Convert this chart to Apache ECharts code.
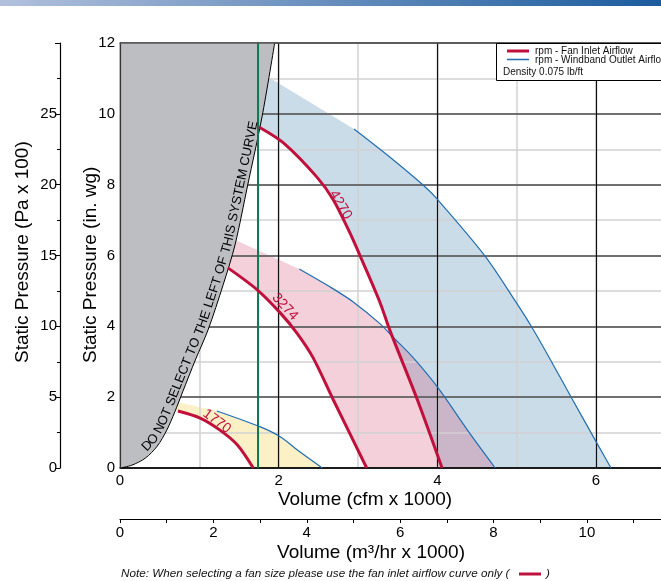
<!DOCTYPE html>
<html><head><meta charset="utf-8">
<script src="https://cdn.jsdelivr.net/npm/echarts@6/dist/echarts.min.js"></script>
<style>html,body{margin:0;padding:0;background:#fff}#c{width:661px;height:581px}</style>
</head><body><div id="c"></div>
<script>
// ---------------- data ----------------
const cfmTickLabels = [0, 2, 4, 6];
const m3hTickLabels = [0, 2, 4, 6, 8, 10];
const paTickLabels = [0, 5, 10, 15, 20, 25];
const CFM_TO_M3H = 1.699;
const cfmVisibleMax = 6.82;   // chart is cropped at the right edge

// system curve (gray "do not select" region boundary)
const systemCurveCfm = [0, 0.15, 0.32, 0.47, 0.59, 0.69, 0.79, 0.95, 1.11, 1.30, 1.45, 1.61, 1.79, 1.95];
const systemCurveWg  = [0, 0.08, 0.28, 0.62, 1.07, 1.58, 2.15, 3.05, 3.90, 5.17, 6.30, 7.99, 9.91, 12];

const selectionLimitCfm = 1.74;

// fan inlet airflow curves (red)
const inlet4270Cfm = [1.75, 2.06, 2.48, 2.69, 2.90, 3.05, 3.28, 3.40, 3.75, 4.06];
const inlet4270Wg  = [9.63, 9.18, 8.22, 7.57, 6.63, 5.87, 4.66, 3.90, 1.92, 0];
const inlet3274Cfm = [1.36, 1.73, 2.02, 2.23, 2.43, 2.69, 3.11];
const inlet3274Wg  = [5.65, 5.03, 4.38, 3.81, 3.13, 1.92, 0];
const inlet1770Cfm = [0.73, 1.01, 1.26, 1.48, 1.68];
const inlet1770Wg  = [1.61, 1.41, 1.07, 0.65, 0];

// windband outlet airflow curves (blue)
const outlet4270Cfm = [2.95, 3.40, 3.82, 4.00, 4.60, 4.99, 5.19, 5.45, 5.70, 6.01, 6.19];
const outlet4270Wg  = [9.57, 8.78, 7.99, 7.59, 5.99, 4.69, 3.98, 2.96, 1.95, 0.71, 0];
const outlet3274Cfm = [2.26, 2.65, 2.94, 3.28, 3.44, 3.69, 4.01, 4.38, 4.73];
const outlet3274Wg  = [5.62, 5.11, 4.69, 4.07, 3.70, 3.13, 2.26, 1.07, 0];
const outlet1770Cfm = [1.22, 1.77, 2.02, 2.27, 2.55];
const outlet1770Wg  = [1.61, 1.16, 0.88, 0.45, 0];

// top-left corner of each shaded band (on the system curve)
const band4270Start = [1.89, 11.01];
const band3274Start = [1.45, 6.44];
const band1770Start = [0.76, 1.84];

const rpmLabels = ['4270', '3274', '1770'];
const rpmLabelAt = [[2.78, 7.43], [2.08, 4.55], [1.22, 1.32]];
const rpmLabelAngle = [-59, -47, -36];

const warningText = 'DO NOT SELECT TO THE LEFT OF THIS SYSTEM CURVE';
const noteText = 'Note: When selecting a fan size please use the fan inlet airflow curve only (';

// ---------------- chart ----------------
const F = '"Liberation Sans", Arial, Helvetica, sans-serif';
const RED = '#c0103c', BLUE = '#1f6db3', GREEN = '#0b7a50';
const zip = (xs, ys) => xs.map((x, i) => [x, ys[i]]);

function bandPoints(inX, inY, outX, outY, start) {
  const shift = 0.3; // pushes the band's left edge under the gray region
  const pts = [[start[0], start[1]]];
  outX.forEach((x, i) => pts.push([x, outY[i]]));
  for (let i = inX.length - 1; i >= 0; i--) pts.push([inX[i], inY[i]]);
  pts.push([inX[0] - shift, inY[0]]);
  pts.push([start[0] - shift, start[1]]);
  return pts;
}
function polySeries(pts, fill, z) {
  return {
    type: 'custom', coordinateSystem: 'cartesian2d', xAxisIndex: 0, yAxisIndex: 0,
    z: z, silent: true, data: [[0, 0]],
    renderItem: (params, api) => ({
      type: 'polygon', shape: { points: pts.map(p => api.coord(p)) },
      style: { fill: fill }
    })
  };
}
function lineSeries(xs, ys, color, width, z) {
  return {
    type: 'line', xAxisIndex: 0, yAxisIndex: 0, data: zip(xs, ys), smooth: 0.3,
    showSymbol: false, symbol: 'none', silent: true, z: z,
    lineStyle: { color: color, width: width }
  };
}

const grayPts = zip(systemCurveCfm, systemCurveWg).concat([[0, 12]]);

const chart = echarts.init(document.getElementById('c'), null, { renderer: 'canvas', width: 661, height: 581 });

const option = {
  animation: false,
  grid: { left: 120, top: 43, right: 0, height: 425, containLabel: false, outerBoundsMode: 'none' },
  xAxis: [
    { type: 'value', min: 0, max: cfmVisibleMax, interval: 2, position: 'bottom', z: 4,
      axisLine: { show: true, onZero: false, lineStyle: { color: '#000', width: 1.5 } },
      axisTick: { show: false },
      axisLabel: { fontSize: 15, color: '#000', fontFamily: F, margin: 5, showMaxLabel: false,
        formatter: v => cfmTickLabels.includes(v) ? String(v) : '' },
      splitLine: { show: true, showMaxLine: false, lineStyle: { color: '#111', width: 1.2 } } },
    { type: 'value', min: 0, max: cfmVisibleMax, interval: 1, position: 'bottom', z: 3,
      axisLine: { show: false }, axisTick: { show: false }, axisLabel: { show: false },
      splitLine: { show: true, showMaxLine: false, lineStyle: { color: '#d2d2d2', width: 1.5 } } },
    { type: 'value', min: 0, max: cfmVisibleMax * CFM_TO_M3H, interval: 1, position: 'bottom', offset: 51, z: 4,
      axisLine: { show: true, onZero: false, lineStyle: { color: '#000', width: 1.2 } },
      axisTick: { show: true, length: 4, lineStyle: { color: '#000', width: 1 } },
      axisLabel: { fontSize: 15, color: '#000', fontFamily: F, margin: 6, showMaxLabel: false,
        formatter: v => m3hTickLabels.includes(v) ? String(v) : '' },
      splitLine: { show: false } },
    { type: 'value', min: 0, max: cfmVisibleMax, position: 'top', z: 8,
      axisLine: { show: true, onZero: false, lineStyle: { color: '#555', width: 1.5 } },
      axisTick: { show: false }, axisLabel: { show: false }, splitLine: { show: false } }
  ],
  yAxis: [
    { type: 'value', min: 0, max: 12, interval: 2, position: 'left', z: 4,
      axisLine: { show: false }, axisTick: { show: false },
      axisLabel: { fontSize: 15, color: '#000', fontFamily: F, margin: 5 },
      splitLine: { show: true, lineStyle: { color: '#4d4d4d', width: 1.6 } } },
    { type: 'value', min: 0, max: 12, interval: 1, position: 'left', z: 3,
      axisLine: { show: false }, axisTick: { show: false }, axisLabel: { show: false },
      splitLine: { show: true, lineStyle: { color: '#d2d2d2', width: 1.5 } } },
    { type: 'value', min: 0, max: 30, interval: 5, position: 'left', offset: 60, z: 4,
      axisLine: { show: true, onZero: false, lineStyle: { color: '#000', width: 1.2 } },
      axisTick: { show: true, length: 5, lineStyle: { color: '#000', width: 1 } },
      minorTick: { show: true, splitNumber: 2, length: 3, lineStyle: { color: '#000', width: 1 } },
      axisLabel: { fontSize: 15, color: '#000', fontFamily: F, margin: 3,
        formatter: v => paTickLabels.includes(v) ? String(v) : '' },
      splitLine: { show: false }, minorSplitLine: { show: false } },
    { type: 'value', min: 0, max: 12, position: 'left', z: 8,
      axisLine: { show: true, onZero: false, lineStyle: { color: '#333', width: 1.2 } },
      axisTick: { show: false }, axisLabel: { show: false }, splitLine: { show: false } }
  ],
  series: [
    polySeries(bandPoints(inlet4270Cfm, inlet4270Wg, outlet4270Cfm, outlet4270Wg, band4270Start), '#cbdce9', 1),
    polySeries(bandPoints(inlet3274Cfm, inlet3274Wg, outlet3274Cfm, outlet3274Wg, band3274Start), 'rgba(205,60,100,0.24)', 1),
    polySeries(bandPoints(inlet1770Cfm, inlet1770Wg, outlet1770Cfm, outlet1770Wg, band1770Start), '#fcf1c6', 1),
    polySeries(grayPts, '#bdbec2', 5),
    lineSeries(systemCurveCfm, systemCurveWg, '#000', 1, 6),
    lineSeries([selectionLimitCfm, selectionLimitCfm], [0, 12], GREEN, 2, 6),
    lineSeries(outlet4270Cfm, outlet4270Wg, BLUE, 1.2, 6),
    lineSeries(outlet3274Cfm, outlet3274Wg, BLUE, 1.2, 6),
    lineSeries(outlet1770Cfm, outlet1770Wg, BLUE, 1.2, 6),
    lineSeries(inlet4270Cfm, inlet4270Wg, RED, 3, 7),
    lineSeries(inlet3274Cfm, inlet3274Wg, RED, 3, 7),
    lineSeries(inlet1770Cfm, inlet1770Wg, RED, 3, 7)
  ]
};
chart.setOption(option);

// ---------------- text / decorations ----------------
const toPx = p => chart.convertToPixel({ xAxisIndex: 0, yAxisIndex: 0 }, p);
const g = [];

// top gradient bar
g.push({ type: 'rect', left: 0, top: 0, z: 20, shape: { width: 661, height: 6 },
  style: { fill: new echarts.graphic.LinearGradient(0, 0, 1, 0, [
    { offset: 0, color: '#b2c0dc' }, { offset: 1, color: '#1b5c9e' }]) } });

function txt(x, y, text, opts) {
  return Object.assign({ type: 'text', x: x, y: y, z: 20, silent: true,
    style: Object.assign({ text: text, fill: '#000', font: '19px ' + F,
      align: 'center', verticalAlign: 'middle', textAlign: 'center', textVerticalAlign: 'middle' }, opts.style || {}) },
    opts.el || {});
}
// axis titles
g.push(txt(365, 500, 'Volume (cfm x 1000)', {}));
g.push(txt(371, 553, 'Volume (m\u00b3/hr x 1000)', {}));
g.push(txt(23, 363, 'Static Pressure (Pa x 100)', { style: { align: 'left', textAlign: 'left' }, el: { rotation: Math.PI / 2 } }));
g.push(txt(91, 363, 'Static Pressure (in. wg)', { style: { align: 'left', textAlign: 'left' }, el: { rotation: Math.PI / 2 } }));

// note
const noteFont = 'italic 11.7px ' + F;
g.push(txt(121, 574, noteText, { style: { font: noteFont, align: 'left', textAlign: 'left', fill: '#111' } }));
g.push({ type: 'line', z: 20, shape: { x1: 519, y1: 574, x2: 541, y2: 574 }, style: { stroke: RED, lineWidth: 3 } });
g.push(txt(546, 574, ')', { style: { font: noteFont, align: 'left', textAlign: 'left', fill: '#111' } }));

// legend box
const legFont = '10px ' + F;
g.push({ type: 'rect', z: 20, shape: { x: 496.5, y: 43.5, width: 220, height: 37 }, style: { fill: '#fff', stroke: '#000', lineWidth: 1 } });
g.push({ type: 'line', z: 21, shape: { x1: 507, y1: 51, x2: 529, y2: 51 }, style: { stroke: RED, lineWidth: 3 } });
g.push({ type: 'line', z: 21, shape: { x1: 507, y1: 59.5, x2: 529, y2: 59.5 }, style: { stroke: BLUE, lineWidth: 1.5 } });
g.push(txt(535, 51, 'rpm - Fan Inlet Airflow', { el: { z: 21 }, style: { font: legFont, align: 'left', textAlign: 'left', fill: '#111' } }));
g.push(txt(535, 60, 'rpm - Windband Outlet Airflow', { el: { z: 21 }, style: { font: legFont, align: 'left', textAlign: 'left', fill: '#111' } }));
g.push(txt(503, 72, 'Density 0.075 lb/ft', { el: { z: 21 }, style: { font: legFont, align: 'left', textAlign: 'left', fill: '#111' } }));

// rpm labels on the red curves
rpmLabels.forEach((t, i) => {
  const p = toPx(rpmLabelAt[i]);
  g.push(txt(p[0], p[1], t, { el: { rotation: rpmLabelAngle[i] * Math.PI / 180, z: 21 },
    style: { font: '14px ' + F, fill: RED } }));
});

// warning text running along the system curve
(function () {
  const pts = systemCurveCfm.map((x, i) => toPx([x, systemCurveWg[i]]));
  const cum = [0];
  for (let i = 1; i < pts.length; i++) cum.push(cum[i - 1] + Math.hypot(pts[i][0] - pts[i - 1][0], pts[i][1] - pts[i - 1][1]));
  function at(s) {
    let i = 1;
    while (i < pts.length - 1 && cum[i] < s) i++;
    const t = (s - cum[i - 1]) / (cum[i] - cum[i - 1]);
    return [pts[i - 1][0] + t * (pts[i][0] - pts[i - 1][0]), pts[i - 1][1] + t * (pts[i][1] - pts[i - 1][1])];
  }
  const ctx = document.createElement('canvas').getContext('2d');
  const font = '13px ' + F;
  ctx.font = font;
  let s = 33;
  for (const ch of warningText) {
    const w = ctx.measureText(ch).width;
    const sc = s + w / 2;
    const p = at(sc), a = at(sc - 8), b = at(sc + 8);
    let dx = b[0] - a[0], dy = b[1] - a[1];
    const L = Math.hypot(dx, dy); dx /= L; dy /= L;
    const rot = Math.atan2(-dy, dx);
    const up = [dy, -dx];
    const off = 0.5;
    g.push({ type: 'text', z: 21, silent: true, x: p[0] + up[0] * off, y: p[1] + up[1] * off, rotation: rot,
      style: { text: ch, font: font, fill: '#000', align: 'center', verticalAlign: 'bottom', textAlign: 'center', textVerticalAlign: 'bottom' } });
    s += w;
  }
})();

chart.setOption({ graphic: { elements: g } });
</script></body></html>
